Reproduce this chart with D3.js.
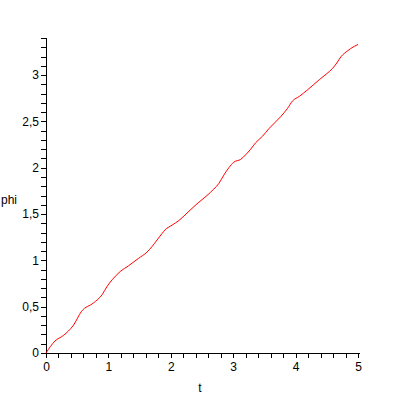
<!DOCTYPE html>
<html>
<head>
<meta charset="utf-8">
<script src="https://cdn.jsdelivr.net/npm/d3@7"></script>
<style>
  body { margin: 0; background: #fff; }
  svg text { font-family: "Liberation Sans", sans-serif; font-size: 12px; fill: #000; }
</style>
</head>
<body>
<svg width="400" height="400"></svg>
<script>
// values
var tValues = [0, 0.145, 0.28, 0.44, 0.57, 0.76, 0.9, 0.98, 1.06, 1.19, 1.32, 1.48, 1.62, 1.7, 1.78, 1.86, 1.91,
  2.02, 2.13, 2.29, 2.42, 2.58, 2.69, 2.77, 2.85, 2.93, 3.01, 3.12, 3.2, 3.28, 3.36, 3.47, 3.57, 3.76, 3.87, 3.95,
  4.06, 4.19, 4.38, 4.49, 4.59, 4.66, 4.73, 4.83, 4.94, 5.0];
var phiValues = [0, 0.13, 0.19, 0.3, 0.45, 0.54, 0.63, 0.72, 0.79, 0.88, 0.94, 1.02, 1.09, 1.15, 1.22, 1.29, 1.33,
  1.38, 1.43, 1.53, 1.61, 1.7, 1.77, 1.83, 1.92, 2.0, 2.06, 2.09, 2.14, 2.2, 2.27, 2.34, 2.42, 2.55, 2.64, 2.72,
  2.77, 2.84, 2.95, 3.01, 3.07, 3.13, 3.2, 3.26, 3.31, 3.33];
var xTickLabels = ["0", "1", "2", "3", "4", "5"];
var yTickLabels = ["0", "0,5", "1", "1,5", "2", "2,5", "3"];

var svg = d3.select("svg");

var x = d3.scaleLinear().domain([0, 5]).range([46, 358]);
var y = d3.scaleLinear().domain([0, 3.4]).range([353, 38]);

// Achsen
var xAxis = d3.axisBottom(x)
  .tickValues(d3.range(0, 5.01, 0.2))
  .tickSize(5)
  .tickFormat(function (d) {
    var i = Math.round(d);
    return Math.abs(d - i) < 1e-6 ? xTickLabels[i] : "";
  });

var yAxis = d3.axisLeft(y)
  .tickValues(d3.range(0, 3.401, 0.1))
  .tickSize(5)
  .tickFormat(function (d) {
    var i = Math.round(d * 2);
    return Math.abs(d * 2 - i) < 1e-6 ? yTickLabels[i] : "";
  });

var gx = svg.append("g").attr("transform", "translate(0,353)").call(xAxis);
var gy = svg.append("g").attr("transform", "translate(46,0)").call(yAxis);

[gx, gy].forEach(function (g) {
  g.select(".domain").attr("stroke", "#000").attr("shape-rendering", "crispEdges");
  g.selectAll(".tick line").attr("stroke", "#000").attr("shape-rendering", "crispEdges");
  g.selectAll("text").attr("font-family", "Liberation Sans, sans-serif").attr("font-size", 12).attr("fill", "#000");
});
gx.select(".domain").attr("d", "M46,0H360");
gy.select(".domain").attr("d", "M0,353V38");
gx.selectAll(".tick text").attr("y", 9);
gy.selectAll(".tick text").attr("x", -7);

// Kurve
var pts = tValues.map(function (t, i) { return [t, phiValues[i]]; });
var line = d3.line()
  .x(function (d) { return x(d[0]); })
  .y(function (d) { return y(d[1]); })
  .curve(d3.curveMonotoneX);

svg.append("path")
  .datum(pts)
  .attr("fill", "none")
  .attr("stroke", "#ff0000")
  .attr("stroke-width", 1)
  .attr("d", line);

// Beschriftung
svg.append("text").attr("x", 200).attr("y", 392).attr("text-anchor", "middle").text("t");
svg.append("text").attr("x", 1).attr("y", 204).text("phi");
</script>
</body>
</html>
